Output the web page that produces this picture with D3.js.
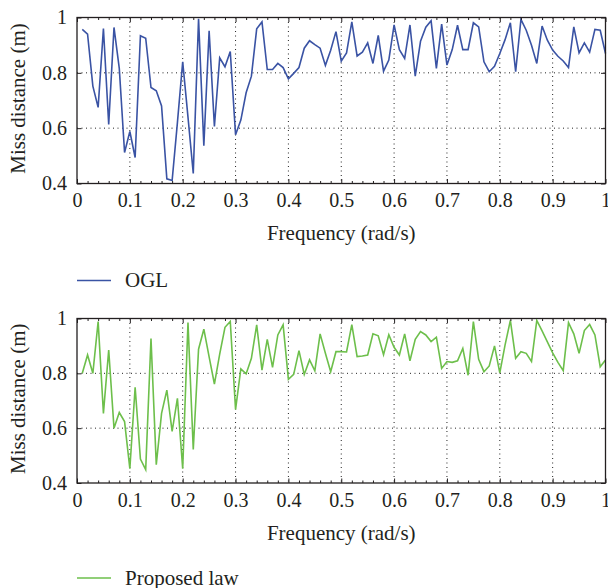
<!DOCTYPE html>
<html>
<head>
<meta charset="utf-8">
<script src="https://cdn.jsdelivr.net/npm/d3@7/dist/d3.min.js"></script>
<style>
  html, body { margin: 0; padding: 0; background: #fff; }
  svg { display: block; }
  text { font-family: "Liberation Serif", "Times New Roman", serif; fill: #231f20; }
</style>
</head>
<body>
<svg id="chart" width="608" height="588"></svg>
<script>
// Sampled frequencies (rad/s)
const frequency = [
  0.01,0.02,0.03,0.04,0.05,0.06,0.07,0.08,0.09,0.10,
  0.11,0.12,0.13,0.14,0.15,0.16,0.17,0.18,0.19,0.20,
  0.21,0.22,0.23,0.24,0.25,0.26,0.27,0.28,0.29,0.30,
  0.31,0.32,0.33,0.34,0.35,0.36,0.37,0.38,0.39,0.40,
  0.41,0.42,0.43,0.44,0.45,0.46,0.47,0.48,0.49,0.50,
  0.51,0.52,0.53,0.54,0.55,0.56,0.57,0.58,0.59,0.60,
  0.61,0.62,0.63,0.64,0.65,0.66,0.67,0.68,0.69,0.70,
  0.71,0.72,0.73,0.74,0.75,0.76,0.77,0.78,0.79,0.80,
  0.81,0.82,0.83,0.84,0.85,0.86,0.87,0.88,0.89,0.90,
  0.91,0.92,0.93,0.94,0.95,0.96,0.97,0.98,0.99,1.00
];

// Miss distance (m) under OGL
const missOGL = [
  0.957,0.940,0.752,0.675,0.960,0.613,0.964,0.816,0.512,0.588,
  0.494,0.934,0.925,0.747,0.735,0.680,0.417,0.411,0.620,0.840,
  0.640,0.436,0.995,0.537,0.952,0.606,0.854,0.822,0.877,0.576,
  0.629,0.728,0.788,0.959,0.984,0.812,0.812,0.834,0.819,0.778,
  0.798,0.819,0.889,0.916,0.902,0.889,0.827,0.882,0.949,0.842,
  0.872,0.984,0.861,0.875,0.908,0.834,0.935,0.806,0.846,0.973,
  0.884,0.852,0.973,0.788,0.914,0.965,0.988,0.816,0.976,0.828,
  0.884,0.972,0.884,0.884,0.981,0.966,0.840,0.804,0.824,0.870,
  0.920,0.981,0.804,0.993,0.954,0.900,0.834,0.969,0.918,0.882,
  0.860,0.843,0.819,0.966,0.872,0.908,0.875,0.957,0.954,0.870
];

// Miss distance (m) under the proposed law
const missProposed = [
  0.800,0.867,0.800,0.989,0.654,0.885,0.600,0.657,0.624,0.452,
  0.749,0.487,0.449,0.927,0.467,0.654,0.739,0.588,0.709,0.452,
  0.985,0.522,0.888,0.961,0.860,0.761,0.870,0.968,0.989,0.668,
  0.816,0.798,0.855,0.977,0.812,0.924,0.822,0.940,0.977,0.778,
  0.796,0.883,0.796,0.849,0.809,0.944,0.873,0.806,0.879,0.879,
  0.878,0.978,0.861,0.863,0.867,0.944,0.937,0.868,0.941,0.895,
  0.867,0.944,0.846,0.924,0.952,0.940,0.916,0.932,0.818,0.843,
  0.840,0.846,0.891,0.793,0.989,0.851,0.806,0.827,0.900,0.802,
  0.904,0.993,0.855,0.879,0.873,0.843,0.993,0.955,0.915,0.875,
  0.840,0.810,0.985,0.944,0.873,0.956,0.978,0.940,0.824,0.849
];

const xTicks = [0, 0.1, 0.2, 0.3, 0.4, 0.5, 0.6, 0.7, 0.8, 0.9, 1];
const xMinorTicks = [0.02,0.04,0.06,0.08,0.12,0.14,0.16,0.18,0.22,0.24,0.26,0.28,
  0.32,0.34,0.36,0.38,0.42,0.44,0.46,0.48,0.52,0.54,0.56,0.58,0.62,0.64,0.66,0.68,
  0.72,0.74,0.76,0.78,0.82,0.84,0.86,0.88,0.92,0.94,0.96,0.98];
const yTicks = [0.4, 0.6, 0.8, 1];
const xGrid = [0.1, 0.2, 0.3, 0.4, 0.5, 0.6, 0.7, 0.8, 0.9];
const yGrid = [0.6, 0.8];

const panels = [
  { values: missOGL, label: "OGL", color: "#3a53a4", top: 17.5, bottom: 183.5,
    xTitleY: 240, legendY: 280.5 },
  { values: missProposed, label: "Proposed law", color: "#6dbf4b", top: 318.5, bottom: 483,
    xTitleY: 539.5, legendY: 578 }
];

const left = 77, right = 605.5;
const tickFont = 20, titleFont = 21;
const svg = d3.select("#chart");
const fmt = d3.format("~g");

const x = d3.scaleLinear().domain([0, 1]).range([left, right]);

panels.forEach(p => {
  const y = d3.scaleLinear().domain([0.4, 1]).range([p.bottom, p.top]);
  const g = svg.append("g");

  // dotted grid
  g.append("g").selectAll("line").data(xGrid).join("line")
    .attr("x1", d => x(d)).attr("x2", d => x(d))
    .attr("y1", p.top).attr("y2", p.bottom)
    .attr("stroke", "#222").attr("stroke-width", 1)
    .attr("stroke-dasharray", "1,3.5");
  g.append("g").selectAll("line").data(yGrid).join("line")
    .attr("x1", left).attr("x2", right)
    .attr("y1", d => y(d)).attr("y2", d => y(d))
    .attr("stroke", "#222").attr("stroke-width", 1)
    .attr("stroke-dasharray", "1,3.5");

  // data line
  const line = d3.line().x((d, i) => x(frequency[i])).y(d => y(d));
  g.append("path").datum(p.values)
    .attr("d", line)
    .attr("fill", "none")
    .attr("stroke", p.color)
    .attr("stroke-width", 1.6)
    .attr("stroke-linejoin", "miter");

  // axes with inward ticks
  const styleAxis = sel => {
    sel.select(".domain").remove();
    sel.selectAll(".tick line").attr("stroke", "#231f20").attr("stroke-width", 1);
    sel.selectAll("text").style("font-size", tickFont + "px")
      .style("font-family", "'Liberation Serif', serif").attr("fill", "#231f20");
  };
  g.append("g").attr("transform", `translate(0,${p.bottom})`)
    .call(d3.axisBottom(x).tickValues(xTicks).tickFormat(fmt).tickSizeInner(-4.5).tickSizeOuter(0).tickPadding(9.5))
    .call(styleAxis);
  g.append("g").attr("transform", `translate(0,${p.bottom})`)
    .call(d3.axisBottom(x).tickValues(xMinorTicks).tickFormat("").tickSizeInner(-2.5).tickSizeOuter(0))
    .call(styleAxis);
  g.append("g").attr("transform", `translate(0,${p.top})`)
    .call(d3.axisTop(x).tickValues(xTicks).tickFormat("").tickSizeInner(-4.5).tickSizeOuter(0))
    .call(styleAxis);
  g.append("g").attr("transform", `translate(0,${p.top})`)
    .call(d3.axisTop(x).tickValues(xMinorTicks).tickFormat("").tickSizeInner(-2.5).tickSizeOuter(0))
    .call(styleAxis);
  g.append("g").attr("transform", `translate(${left},0)`)
    .call(d3.axisLeft(y).tickValues(yTicks).tickFormat(fmt).tickSizeInner(-4.5).tickSizeOuter(0).tickPadding(10))
    .call(styleAxis);
  g.append("g").attr("transform", `translate(${right},0)`)
    .call(d3.axisRight(y).tickValues(yTicks).tickFormat("").tickSizeInner(-4.5).tickSizeOuter(0))
    .call(styleAxis);

  // box
  g.append("rect")
    .attr("x", left).attr("y", p.top)
    .attr("width", right - left).attr("height", p.bottom - p.top)
    .attr("fill", "none").attr("stroke", "#231f20").attr("stroke-width", 1.3);

  // axis titles
  g.append("text")
    .attr("x", (left + right) / 2).attr("y", p.xTitleY)
    .attr("text-anchor", "middle")
    .style("font-size", titleFont + "px")
    .text("Frequency (rad/s)");
  g.append("text")
    .attr("transform", `translate(25,${(p.top + p.bottom) / 2 - 2}) rotate(-90)`)
    .attr("text-anchor", "middle")
    .style("font-size", titleFont + "px")
    .text("Miss distance (m)");

  // legend
  g.append("line")
    .attr("x1", 77).attr("x2", 111)
    .attr("y1", p.legendY).attr("y2", p.legendY)
    .attr("stroke", p.color).attr("stroke-width", 1.4);
  g.append("text")
    .attr("x", 125).attr("y", p.legendY + 6.5)
    .style("font-size", titleFont + "px")
    .text(p.label);
});
</script>
</body>
</html>
